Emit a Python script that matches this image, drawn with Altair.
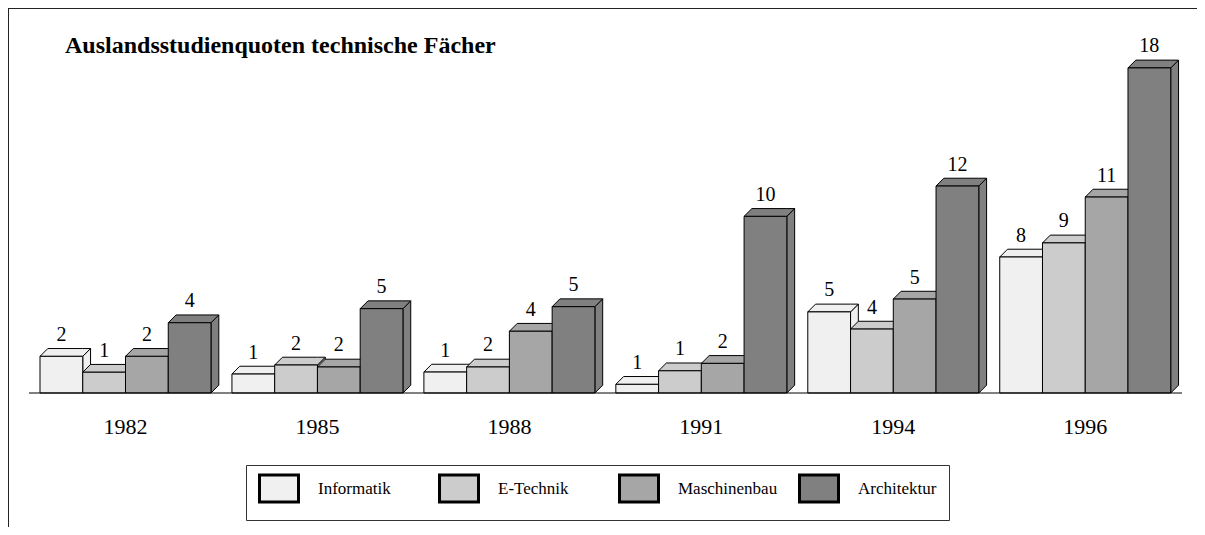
import altair as alt
import pandas as pd

# ---------------- data ----------------
years = ["1982", "1985", "1988", "1991", "1994", "1996"]
series = ["Informatik", "E-Technik", "Maschinenbau", "Architektur"]

# bar heights (as drawn)
informatik = [2.03, 1.05, 1.16, 0.48, 4.49, 7.53]
etechnik = [1.15, 1.55, 1.44, 1.23, 3.54, 8.31]
maschinenbau = [2.03, 1.44, 3.42, 1.64, 5.20, 10.85]
architektur = [3.89, 4.67, 4.78, 9.78, 11.46, 18.0]

# printed value labels
informatik_lbl = [2, 1, 1, 1, 5, 8]
etechnik_lbl = [1, 2, 2, 1, 4, 9]
maschinenbau_lbl = [2, 2, 4, 2, 5, 11]
architektur_lbl = [4, 5, 5, 10, 12, 18]

colors = ["#f0f0f0", "#cccccc", "#a6a6a6", "#808080"]
TITLE = "Auslandsstudienquoten technische Fächer"

# ---------------- layout / style ----------------
W, H = 1189, 519
PX_X = 42.75          # pixels per bar width
PX_Y = 18.06          # pixels per unit
X0_PX = 32            # left of first bar
Y0_PX = 385           # baseline
GROUP_STEP = 4.49     # in bar widths
DEPTH = 7.8           # px
DX = DEPTH / PX_X
DY = DEPTH / PX_Y
FONT = "Liberation Serif"

x_dom = [-X0_PX / PX_X, (W - X0_PX) / PX_X]
y_dom = [-(H - Y0_PX) / PX_Y, Y0_PX / PX_Y]

vals = [informatik, etechnik, maschinenbau, architektur]
lbls = [informatik_lbl, etechnik_lbl, maschinenbau_lbl, architektur_lbl]

bars, tops, sides, groups = [], [], [], []
for g, yr in enumerate(years):
    groups.append({"year": yr, "xc": g * GROUP_STEP + 2.0})
    for s, name in enumerate(series):
        L = g * GROUP_STEP + s
        R = L + 1
        h = vals[s][g]
        bid = f"{yr}-{name}"
        bars.append({"id": bid, "series": name, "L": L, "R": R, "xc": L + 0.5,
                     "base": 0.0, "v": h, "label": str(lbls[s][g])})
        for px, lo, hi in [(L, h, h), (L + DX, h, h + DY), (R, h, h + DY), (R + DX, h + DY, h + DY)]:
            tops.append({"id": bid, "series": name, "px": px, "lo": lo, "hi": hi})
        for px, lo, hi in [(R, 0.0, h), (R + DX, DY, h + DY)]:
            sides.append({"id": bid, "series": name, "px": px, "lo": lo, "hi": hi})

bars = pd.DataFrame(bars)
tops = pd.DataFrame(tops)
sides = pd.DataFrame(sides)
groups = pd.DataFrame(groups)

xs = alt.Scale(domain=x_dom, nice=False, zero=False)
ys = alt.Scale(domain=y_dom, nice=False, zero=False)

# swatch 39 x 27 px drawn by a path larger than the nominal 20 px symbol
legend = alt.Legend(
    orient="none", legendX=238, legendY=457, direction="horizontal",
    columns=4, gridAlign="all", title=None,
    symbolType="M-1,-1.35L2.9,-1.35L2.9,1.35L-1,1.35Z", symbolSize=400,
    symbolStrokeColor="black", symbolStrokeWidth=3, symbolOpacity=1,
    labelFont=FONT, labelFontSize=17, labelColor="black", labelOffset=37,
    columnPadding=15, padding=12, strokeColor="#333333", fillColor="white",
)
color = alt.Color("series:N", scale=alt.Scale(domain=series, range=colors), legend=legend)

side_layer = alt.Chart(sides).mark_area(stroke="black", strokeWidth=1, opacity=1, strokeJoin="bevel").encode(
    x=alt.X("px:Q", scale=xs, axis=None),
    y=alt.Y("lo:Q", scale=ys, axis=None, stack=None),
    y2="hi:Q",
    detail="id:N",
    color=color,
)
top_layer = alt.Chart(tops).mark_area(stroke="black", strokeWidth=1, opacity=1, strokeJoin="bevel").encode(
    x=alt.X("px:Q", scale=xs, axis=None),
    y=alt.Y("lo:Q", scale=ys, axis=None, stack=None),
    y2="hi:Q",
    detail="id:N",
    color=color,
)
front_layer = alt.Chart(bars).mark_rect(stroke="black", strokeWidth=1, opacity=1).encode(
    x=alt.X("L:Q", scale=xs, axis=None),
    x2="R:Q",
    y=alt.Y("base:Q", scale=ys, axis=None),
    y2="v:Q",
    color=color,
)
value_text = alt.Chart(bars).mark_text(
    font=FONT, fontSize=20, color="black", baseline="alphabetic", dy=-15.5
).encode(
    x=alt.X("xc:Q", scale=xs, axis=None),
    y=alt.Y("v:Q", scale=ys, axis=None),
    text="label:N",
)
year_text = alt.Chart(groups).mark_text(
    font=FONT, fontSize=22, color="black", baseline="alphabetic"
).encode(
    x=alt.X("xc:Q", scale=xs, axis=None),
    y=alt.value(426),
    text="year:N",
)
baseline = alt.Chart(pd.DataFrame({"zero": [0.0]})).mark_rule(color="black", strokeWidth=1).encode(
    x=alt.value(21), x2=alt.value(1174),
    y=alt.Y("zero:Q", scale=ys, axis=None),
)
title = alt.Chart(pd.DataFrame({"t": [TITLE]})).mark_text(
    font=FONT, fontSize=24, fontWeight="bold", color="black", align="left", baseline="alphabetic"
).encode(text="t:N", x=alt.value(57), y=alt.value(45))
frame_top = alt.Chart(pd.DataFrame({"a": [0]})).mark_rule(color="#222222", strokeWidth=1).encode(
    x=alt.value(0), x2=alt.value(W), y=alt.value(0.5)
)
frame_left = alt.Chart(pd.DataFrame({"a": [0]})).mark_rule(color="#222222", strokeWidth=1).encode(
    x=alt.value(0.5), y=alt.value(0), y2=alt.value(H)
)

chart = alt.layer(
    frame_top, frame_left, side_layer, top_layer, front_layer, baseline, value_text, year_text, title
).properties(
    width=W, height=H, padding=0, autosize=alt.AutoSizeParams(type="none")
).configure_view(stroke=None)

chart.save("out.html", embed_options={"renderer": "svg", "actions": False})
